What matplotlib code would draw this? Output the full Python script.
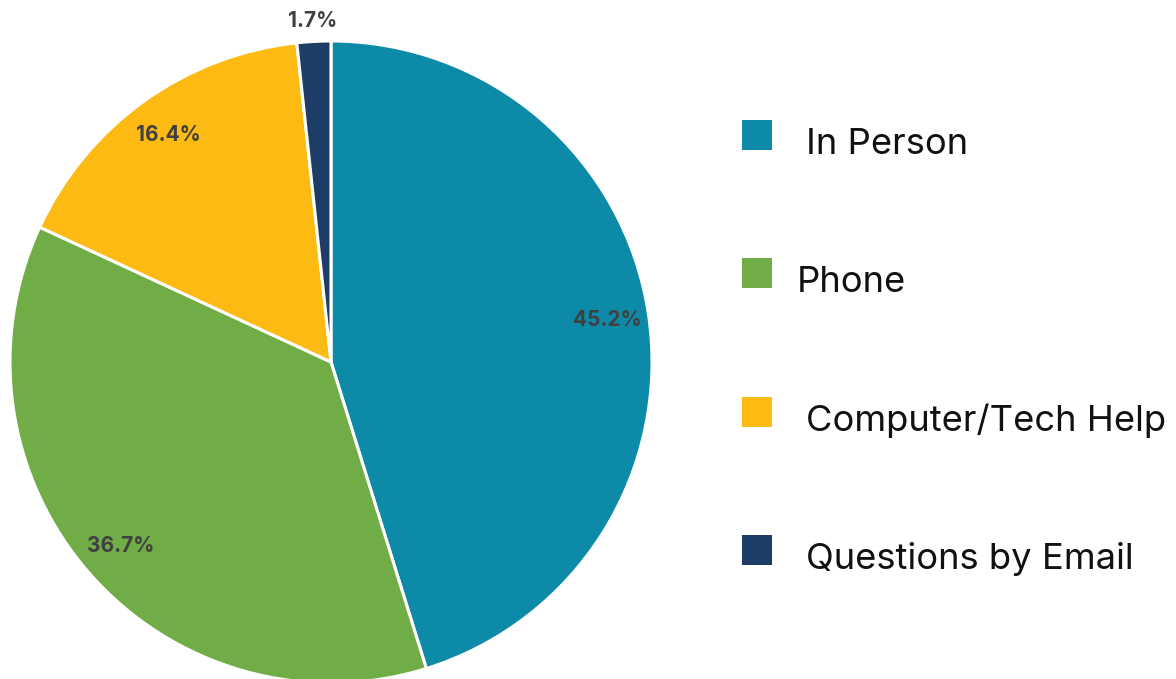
import matplotlib
matplotlib.use("Agg")
import matplotlib.pyplot as plt
from matplotlib.patches import Rectangle
import numpy as np

categories = ["In Person", "Phone", "Computer/Tech Help", "Questions by Email"]
values = [45.2, 36.7, 16.4, 1.7]
colors = ["#0C8AA8", "#70AD47", "#FDBA13", "#1E3D66"]
legend_labels = ["In Person", "Phone", "Computer/Tech Help", "Questions by Email"]

W, H = 1176, 679
fig = plt.figure(figsize=(W / 100, H / 100), dpi=100)
cx, cy, R = 331, 362, 321
ax = fig.add_axes([(cx - R) / W, 1 - (cy + R) / H, 2 * R / W, 2 * R / H])

wedges, _ = ax.pie(values, colors=colors, startangle=90, counterclock=False,
                   radius=1.0, wedgeprops=dict(edgecolor="white", linewidth=2.2))
ax.set_xlim(-1, 1)
ax.set_ylim(-1, 1)
ax.set_aspect("auto")
ax.axis("off")

total = sum(values)
cum = 0
for v in values:
    mid = 90 - (cum + v / 2) / total * 360
    cum += v
    r = 0.87 if v > 5 else 1.065
    x = r * np.cos(np.radians(mid))
    y = r * np.sin(np.radians(mid))
    ax.text(x, y, f"{v:.1f}%", ha="center", va="center", fontsize=15,
            fontweight="bold", color="#404040", family="Inter", clip_on=False)

# legend
ys = [135, 273, 412, 550]
text_x = [806, 797, 806, 806]
for lab, col, y, tx in zip(legend_labels, colors, ys, text_x):
    fig.patches.append(Rectangle((742 / W, 1 - (y + 15) / H), 30 / W, 30 / H,
                                 transform=fig.transFigure, facecolor=col,
                                 edgecolor="none"))
    fig.text(tx / W, 1 - (y + 9) / H, lab, ha="left", va="center",
             fontsize=26.2, family="Inter", color="#111111")

fig.savefig("out.png", dpi=100)
